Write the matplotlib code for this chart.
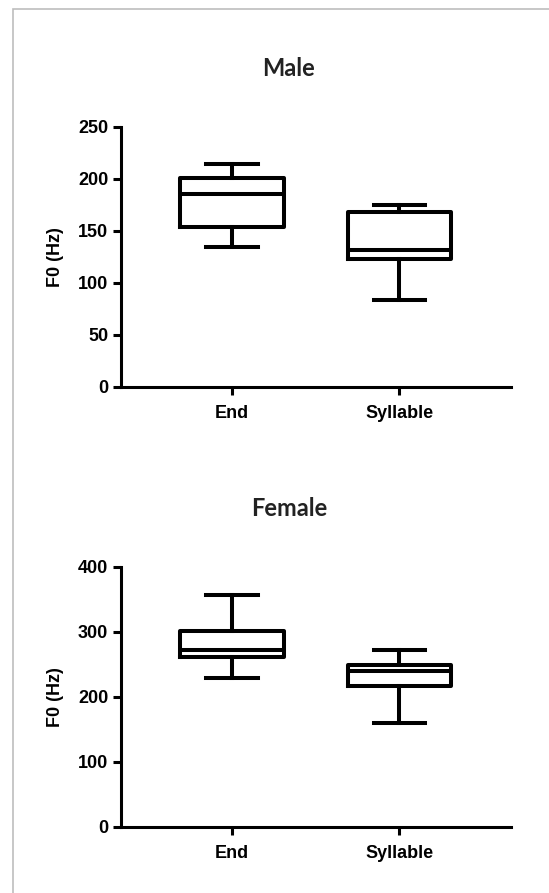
import matplotlib
matplotlib.use("Agg")
import matplotlib.pyplot as plt
from matplotlib.patches import Rectangle

# Box summaries (min, q1, median, q3, max)
categories = ["End", "Syllable"]

male_min = [134, 83]
male_q1 = [154, 123]
male_med = [185, 131]
male_q3 = [201, 168]
male_max = [214, 175]

female_min = [229, 159]
female_q1 = [261, 216]
female_med = [272, 239]
female_q3 = [301, 249]
female_max = [357, 272]

male_ticks = [0, 50, 100, 150, 200, 250]
female_ticks = [0, 100, 200, 300, 400]

W, H = 549, 893
fig = plt.figure(figsize=(W / 100, H / 100), dpi=100)

# light grey frame around the panel
fig.patches.append(Rectangle((13 / W, -0.1), 1.2, 1 - 9 / H + 0.1,
                             transform=fig.transFigure, fill=False,
                             edgecolor="#bdbdbd", linewidth=1.2))

lab_font = ["Liberation Sans", "DejaVu Sans"]
title_font = ["Lato", "DejaVu Sans"]
fs = 13


def make_stats(mins, q1s, meds, q3s, maxs):
    stats = []
    for i in range(len(categories)):
        stats.append(dict(whislo=mins[i], q1=q1s[i], med=meds[i],
                          q3=q3s[i], whishi=maxs[i], fliers=[],
                          label=categories[i]))
    return stats


def draw_panel(rect, stats, ticks, title, title_y):
    ax = fig.add_axes(rect)
    lw = 2.9
    ax.bxp(stats, positions=[1, 2], widths=0.62, showfliers=False,
           boxprops=dict(color="black", linewidth=lw),
           medianprops=dict(color="black", linewidth=lw),
           whiskerprops=dict(color="black", linewidth=lw),
           capprops=dict(color="black", linewidth=lw))
    ax.set_xlim(0.333, 2.667)
    ax.set_ylim(0, ticks[-1])
    ax.set_yticks(ticks)
    ax.set_xticks([1, 2])
    ax.set_xticklabels(categories, fontfamily=lab_font, fontweight="bold",
                       fontsize=fs)
    for t in ax.get_yticklabels():
        t.set_fontfamily(lab_font)
        t.set_fontweight("bold")
        t.set_fontsize(fs)
    for s in ["top", "right"]:
        ax.spines[s].set_visible(False)
    for s in ["left", "bottom"]:
        ax.spines[s].set_linewidth(2.2)
    ax.tick_params(axis="both", width=2.2, length=6, pad=3, colors="black")
    ax.tick_params(axis="x", pad=7)
    ax.set_ylabel("F0 (Hz)", fontfamily=lab_font, fontweight="bold",
                  fontsize=fs)
    ax.yaxis.set_label_coords((64 - rect[0] * W) / (rect[2] * W), 0.5)
    fig.text(289 / W, 1 - title_y / H, title, ha="center", va="center",
             fontfamily=title_font, fontweight="bold", fontsize=17,
             color="#222222")
    return ax


draw_panel([120.7 / W, 1 - 386.7 / H, (511 - 120.7) / W, 260 / H],
           make_stats(male_min, male_q1, male_med, male_q3, male_max),
           male_ticks, "Male", 68)
draw_panel([120.7 / W, 1 - 826.7 / H, (511 - 120.7) / W, 260 / H],
           make_stats(female_min, female_q1, female_med, female_q3, female_max),
           female_ticks, "Female", 509)

fig.savefig("out.png", dpi=100)
